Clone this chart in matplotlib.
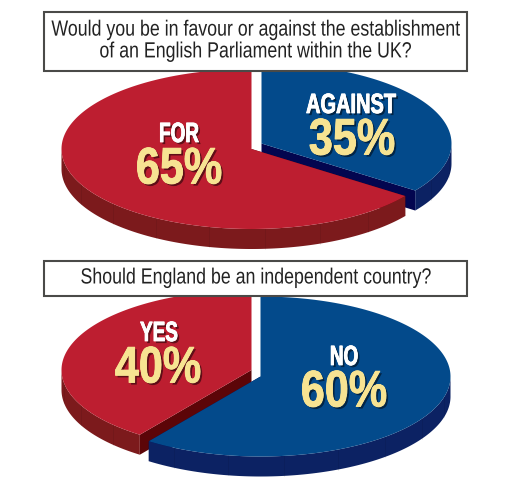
import numpy as np
import matplotlib
matplotlib.use('Agg')
import matplotlib.pyplot as plt
import matplotlib.patheffects as pe
from matplotlib.patches import Polygon, Rectangle
from matplotlib.transforms import Affine2D

# nilai dari gambar
question_1 = 'Would you be in favour or against the establishment\nof an English Parliament within the UK?'
labels_1 = ['AGAINST', 'FOR']
values_1 = [35, 65]

question_2 = 'Should England be an independent country?'
labels_2 = ['NO', 'YES']
values_2 = [60, 40]

RED = '#bd1e30'
RED_WALL = '#7c1a1c'
RED_CUT = '#5c0508'
BLUE = '#034a8b'
BLUE_WALL = '#0c2263'
BLUE_CUT = '#03064f'
YELLOW = '#f7e392'
RX, RY, DEPTH = 190, 80, 20

fig = plt.figure(figsize=(5.17, 4.80), dpi=100)
ax = fig.add_axes([0, 0, 1, 1])
ax.set_xlim(0, 517)
ax.set_ylim(480, 0)
ax.axis('off')


class Squeeze(pe.AbstractPathEffect):
    # font narrow tidak ada, jadi teks dipersempit secara horizontal
    def __init__(self, sx, x, effects):
        super().__init__()
        self.sx = sx
        self.x = x
        self.effects = effects

    def draw_path(self, renderer, gc, tpath, affine, rgbFace=None):
        cx = ax.transData.transform((self.x, 0))[0]
        squeezed = affine + Affine2D().translate(-cx, 0).scale(self.sx, 1).translate(cx, 0)
        for effect in self.effects:
            effect.draw_path(renderer, gc, tpath, squeezed, rgbFace)


def ellipse_pts(cx, cy, a0, a1, n=200):
    t = np.radians(np.linspace(a0, a1, n))
    return np.column_stack([cx + RX * np.cos(t), cy - RY * np.sin(t)])


def wedge(cx, cy, a0, a1, top, wall, cut, cut_angle, z):
    # cut_angle = sisi potong yang kelihatan
    end = ellipse_pts(cx, cy, cut_angle, cut_angle, 1)[0]
    ax.add_patch(Polygon([(cx, cy), end, end + [0, DEPTH], (cx, cy + DEPTH)], fc=cut, ec='none', zorder=z))

    # dinding samping, hanya bagian depan elips
    lo = max(a0 % 360, 180) if a0 < 0 else max(a0, 180)
    hi = 360 if a0 < 0 else min(a1, 360)
    if hi > lo:
        arc = ellipse_pts(cx, cy, lo, hi)
        ax.add_patch(Polygon(np.vstack([arc, (arc + [0, DEPTH])[::-1]]), fc=wall, ec='none', zorder=z))
        # garis facet tipis di dinding
        for a in np.arange(lo + 9, hi, 17):
            p = ellipse_pts(cx, cy, a, a, 1)[0]
            ax.plot([p[0], p[0]], [p[1], p[1] + DEPTH], color='black', alpha=0.07, lw=0.7, zorder=z)

    pts = np.vstack([[(cx, cy)], ellipse_pts(cx, cy, a0, a1)])
    ax.add_patch(Polygon(pts, fc=top, ec='none', zorder=z + 0.5))


def question_box(text, y0, y1, size):
    ax.add_patch(Rectangle((43.5, y0), 423.5, y1 - y0, fc='white', ec='#4a4a48', lw=1.5, zorder=10))
    ax.text(255.5, (y0 + y1) / 2 - 0.5, text, ha='center', va='center', fontsize=size, color='#222222',
            family='Liberation Sans', linespacing=1.05, zorder=11,
            path_effects=[Squeeze(0.81, 255.5, [pe.Normal()])])


def pie_label(x, y, text, size, color, sx):
    ax.text(x, y, text, ha='center', va='center', fontsize=size, color=color, fontweight='bold',
            family='Liberation Sans', zorder=12,
            path_effects=[Squeeze(sx, x, [
                pe.withSimplePatchShadow(offset=(1.5, -1.5), shadow_rgbFace='black', alpha=0.5),
                pe.Stroke(linewidth=0.6, foreground=color),
                pe.Normal()])])


# pie atas: biru dari 90 searah jarum jam, merah sisanya
split_1 = 90 - values_1[0] * 3.6
wedge(261.5, 143.5, split_1, 90, BLUE, BLUE_WALL, BLUE_CUT, split_1, 1)
wedge(251.5, 149, 90, split_1 + 360, RED, RED_WALL, RED_CUT, split_1 + 360, 2)

# pie bawah: merah dari 90 berlawanan jarum jam, biru sisanya
split_2 = 90 + values_2[1] * 3.6
wedge(251.5, 370, 90, split_2, RED, RED_WALL, RED_CUT, split_2, 1)
wedge(260.5, 376.5, split_2, 450, BLUE, BLUE_WALL, BLUE_CUT, split_2, 2)

question_box(question_1, 12, 71, 15.8)
question_box(question_2, 261, 296, 15.8)

pie_label(351, 106, labels_1[0], 20, 'white', 0.72)
pie_label(352, 141, f'{values_1[0]}%', 37, YELLOW, 0.84)
pie_label(179, 135, labels_1[1], 20, 'white', 0.68)
pie_label(179, 170, f'{values_1[1]}%', 37, YELLOW, 0.84)
pie_label(159, 334, labels_2[1], 20, 'white', 0.68)
pie_label(158, 369, f'{values_2[1]}%', 37, YELLOW, 0.84)
pie_label(344, 358, labels_2[0], 20, 'white', 0.68)
pie_label(344, 393, f'{values_2[0]}%', 37, YELLOW, 0.84)

fig.savefig('out.png', dpi=100, facecolor='white')
